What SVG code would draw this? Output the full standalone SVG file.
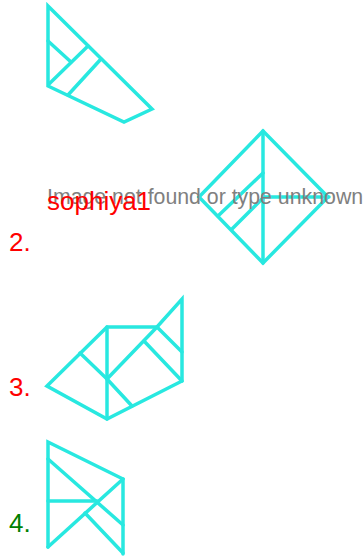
<svg xmlns="http://www.w3.org/2000/svg" width="363" height="558" viewBox="0 0 363 558">
<style>
.f{fill:none;stroke:#28e8e0;stroke-width:3.5;stroke-linejoin:miter;stroke-linecap:round}
.lbl{font-family:"Liberation Sans",Arial,sans-serif;font-size:26px}
.red{fill:#ff0000}
.grn{fill:#008000}
.gray{font-family:"Liberation Sans",Arial,sans-serif;font-size:21.3px;fill:#808080}
</style>
<rect width="363" height="558" fill="#ffffff"/>
<g id="figure1" class="f">
<polygon points="48,6 152,109 124,122 48,86"/>
<line x1="48" y1="41" x2="71" y2="62"/>
<line x1="49" y1="84" x2="88" y2="46"/>
<line x1="68" y1="95" x2="101" y2="59"/>
</g>
<g id="figure2" class="f">
<polygon points="263,131 328,197 263,263 199,197"/>
<line x1="263" y1="131" x2="263" y2="263"/>
<line x1="263" y1="197" x2="329" y2="197"/>
<line x1="263" y1="173" x2="218" y2="216"/>
<line x1="263" y1="198" x2="232" y2="229"/>
</g>
<g id="figure3" class="f">
<polygon points="47,386 107,327 157,327 182,299 182,381 107,419"/>
<line x1="107" y1="327" x2="107" y2="419"/>
<line x1="107" y1="379" x2="157" y2="327"/>
<line x1="157" y1="327" x2="182" y2="352"/>
<line x1="144" y1="341" x2="182" y2="381"/>
<line x1="80" y1="353" x2="107" y2="379"/>
<line x1="107" y1="379" x2="132" y2="406"/>
</g>
<g id="figure4" class="f">
<polyline points="48,547 48,442 123,479 123,554"/>
<line x1="48" y1="547" x2="123" y2="479"/>
<line x1="48" y1="459" x2="123" y2="525"/>
<line x1="48" y1="501" x2="97" y2="501"/>
<line x1="85" y1="513" x2="123" y2="553"/>
</g>
<g id="labels">
<text class="gray" x="47" y="204">Image not found or type unknown</text>
<text class="lbl red" x="47" y="210" font-size="27">sophiya1</text>
<text class="lbl red" x="9" y="251">2.</text>
<text class="lbl red" x="9" y="396">3.</text>
<text class="lbl grn" x="9" y="532">4.</text>
</g>
</svg>
